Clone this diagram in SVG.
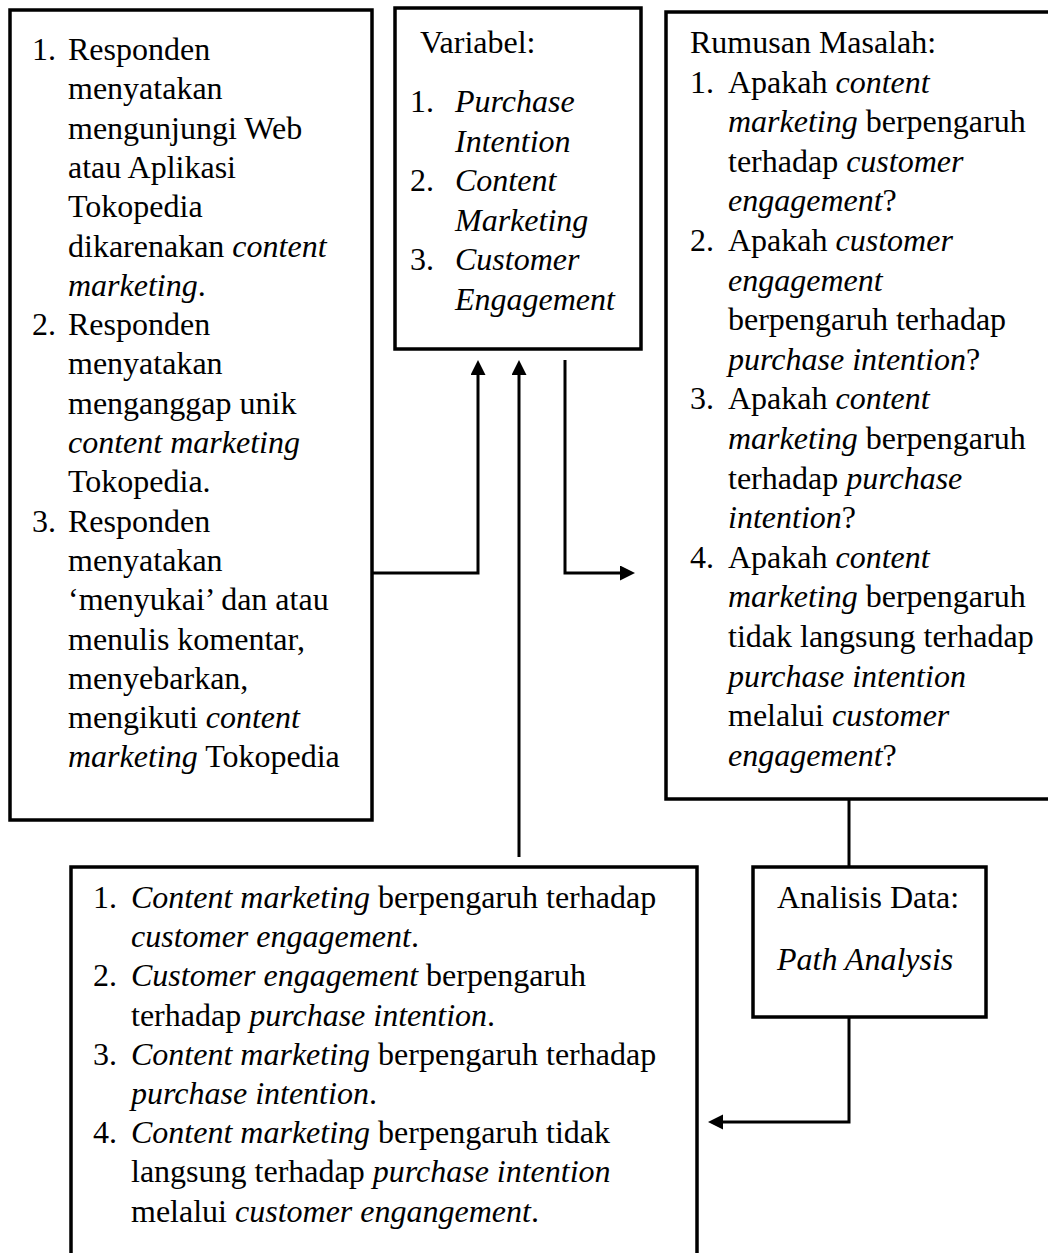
<svg xmlns="http://www.w3.org/2000/svg" width="1048" height="1253" viewBox="0 0 1048 1253">
<style>
text{font-family:"Liberation Serif","Times New Roman",serif;font-size:32px;fill:#000}
.i{font-style:italic}
.box{fill:#fff;stroke:#000;stroke-width:3.5}
.c{fill:none;stroke:#000;stroke-width:3}
</style>
<defs>
<marker id="ah" markerUnits="userSpaceOnUse" markerWidth="16" markerHeight="16" refX="5" refY="7.5" orient="auto">
<path d="M0,0 L15,7.5 L0,15 z" fill="#000"/>
</marker>
</defs>
<rect width="1048" height="1253" fill="#fff"/>

<g id="connectors">
<polyline class="c" points="373,573 478,573 478,370" marker-end="url(#ah)"/>
<polyline class="c" points="519,857 519,370" marker-end="url(#ah)"/>
<polyline class="c" points="565,360 565,573 625,573" marker-end="url(#ah)"/>
<polyline class="c" points="849,799 849,867"/>
<polyline class="c" points="849,1017 849,1122 718,1122" marker-end="url(#ah)"/>
</g>

<g id="node-indikator">
<rect class="box" x="10" y="10" width="362" height="810"/>
<text x="32" y="60">1.</text><text x="68" y="60">Responden</text>
<text x="68" y="99.3">menyatakan</text>
<text x="68" y="138.6">mengunjungi Web</text>
<text x="68" y="177.9">atau Aplikasi</text>
<text x="68" y="217.2">Tokopedia</text>
<text x="68" y="256.5">dikarenakan <tspan class="i">content</tspan></text>
<text x="68" y="295.8"><tspan class="i">marketing</tspan>.</text>
<text x="32" y="335.1">2.</text><text x="68" y="335.1">Responden</text>
<text x="68" y="374.4">menyatakan</text>
<text x="68" y="413.7">menganggap unik</text>
<text x="68" y="453"><tspan class="i">content marketing</tspan></text>
<text x="68" y="492.3">Tokopedia.</text>
<text x="32" y="531.6">3.</text><text x="68" y="531.6">Responden</text>
<text x="68" y="570.9">menyatakan</text>
<text x="68" y="610.2">‘menyukai’ dan atau</text>
<text x="68" y="649.5">menulis komentar,</text>
<text x="68" y="688.8">menyebarkan,</text>
<text x="68" y="728.1">mengikuti <tspan class="i">content</tspan></text>
<text x="68" y="767.4"><tspan class="i">marketing</tspan> Tokopedia</text>
</g>

<g id="node-variabel">
<rect class="box" x="395" y="8" width="246" height="341"/>
<text x="420" y="53">Variabel:</text>
<text x="410" y="112">1.</text><text x="455" y="112" class="i">Purchase</text>
<text x="455" y="152" class="i">Intention</text>
<text x="410" y="191">2.</text><text x="455" y="191" class="i">Content</text>
<text x="455" y="231" class="i">Marketing</text>
<text x="410" y="270">3.</text><text x="455" y="270" class="i">Customer</text>
<text x="455" y="310" class="i">Engagement</text>
</g>

<g id="node-rumusan">
<rect class="box" x="666" y="12" width="400" height="787"/>
<text x="690" y="53">Rumusan Masalah:</text>
<text x="690" y="92.6">1.</text><text x="728" y="92.6">Apakah <tspan class="i">content</tspan></text>
<text x="728" y="132.2"><tspan class="i">marketing</tspan> berpengaruh</text>
<text x="728" y="171.8">terhadap <tspan class="i">customer</tspan></text>
<text x="728" y="211.4"><tspan class="i">engagement</tspan>?</text>
<text x="690" y="251">2.</text><text x="728" y="251">Apakah <tspan class="i">customer</tspan></text>
<text x="728" y="290.6"><tspan class="i">engagement</tspan></text>
<text x="728" y="330.2">berpengaruh terhadap</text>
<text x="728" y="369.8"><tspan class="i">purchase intention</tspan>?</text>
<text x="690" y="409.4">3.</text><text x="728" y="409.4">Apakah <tspan class="i">content</tspan></text>
<text x="728" y="449"><tspan class="i">marketing</tspan> berpengaruh</text>
<text x="728" y="488.6">terhadap <tspan class="i">purchase</tspan></text>
<text x="728" y="528.2"><tspan class="i">intention</tspan>?</text>
<text x="690" y="567.8">4.</text><text x="728" y="567.8">Apakah <tspan class="i">content</tspan></text>
<text x="728" y="607.4"><tspan class="i">marketing</tspan> berpengaruh</text>
<text x="728" y="647">tidak langsung terhadap</text>
<text x="728" y="686.6"><tspan class="i">purchase intention</tspan></text>
<text x="728" y="726.2">melalui <tspan class="i">customer</tspan></text>
<text x="728" y="765.8"><tspan class="i">engagement</tspan>?</text>
</g>

<g id="node-analisis">
<rect class="box" x="753" y="867" width="233" height="150"/>
<text x="777" y="908">Analisis Data:</text>
<text x="777" y="970" class="i">Path Analysis</text>
</g>

<g id="node-hipotesis">
<rect class="box" x="71" y="867" width="626" height="420"/>
<text x="93" y="908">1.</text><text x="131" y="908"><tspan class="i">Content marketing</tspan> berpengaruh terhadap</text>
<text x="131" y="947.2"><tspan class="i">customer engagement</tspan>.</text>
<text x="93" y="986.4">2.</text><text x="131" y="986.4"><tspan class="i">Customer engagement</tspan> berpengaruh</text>
<text x="131" y="1025.6">terhadap <tspan class="i">purchase intention</tspan>.</text>
<text x="93" y="1064.8">3.</text><text x="131" y="1064.8"><tspan class="i">Content marketing</tspan> berpengaruh terhadap</text>
<text x="131" y="1104"><tspan class="i">purchase intention</tspan>.</text>
<text x="93" y="1143.2">4.</text><text x="131" y="1143.2"><tspan class="i">Content marketing</tspan> berpengaruh tidak</text>
<text x="131" y="1182.4">langsung terhadap <tspan class="i">purchase intention</tspan></text>
<text x="131" y="1221.6">melalui <tspan class="i">customer engangement</tspan>.</text>
</g>
</svg>
